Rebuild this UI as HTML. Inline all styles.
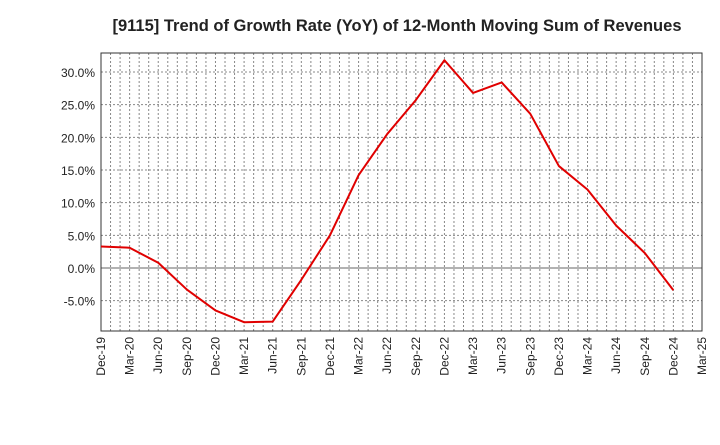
<!DOCTYPE html>
<html><head><meta charset="utf-8"><style>
body{margin:0;background:#fff;font-family:"Liberation Sans",sans-serif}
</style></head><body>
<svg id="c" width="720" height="440" xmlns="http://www.w3.org/2000/svg" font-family="Liberation Sans, sans-serif"></svg>
<script>
const categories=["Dec-19","Mar-20","Jun-20","Sep-20","Dec-20","Mar-21","Jun-21","Sep-21","Dec-21","Mar-22","Jun-22","Sep-22","Dec-22","Mar-23","Jun-23","Sep-23","Dec-23","Mar-24","Jun-24","Sep-24","Dec-24","Mar-25"];
const values=[3.3,3.1,0.8,-3.3,-6.5,-8.3,-8.2,-1.8,5.0,14.2,20.5,25.7,31.8,26.8,28.4,23.6,15.6,12.0,6.5,2.3,-3.4];
const yTicks=[-5,0,5,10,15,20,25,30];
const yLabels=["-5.0%","0.0%","5.0%","10.0%","15.0%","20.0%","25.0%","30.0%"];
const svg=document.getElementById('c');const NS="http://www.w3.org/2000/svg";
const L=101,R=702,T=53,B=331;
const x=i=>L+(R-L)*i/(categories.length-1);
const y=v=>268-v*(268-72)/30;
function el(t,a,p){const e=document.createElementNS(NS,t);for(const k in a)e.setAttribute(k,a[k]);(p||svg).appendChild(e);return e;}
const title=el('text',{x:397,y:31,'text-anchor':'middle','font-size':16.5,'font-weight':'bold',fill:'#222'});title.textContent="[9115]  Trend of Growth Rate (YoY) of 12-Month Moving Sum of Revenues";

const n=(categories.length-1)*3;
for(let m=1;m<n;m++){const xx=L+(R-L)*m/n;const g=el('line',{x1:xx,x2:xx,y1:T,y2:B,stroke:'#888','stroke-width':1,'stroke-dasharray':'2,2'});
}
yTicks.forEach((v,i)=>{const g=el('line',{x1:L,x2:R,y1:y(v),y2:y(v),stroke:v===0?'#666':'#888','stroke-width':1,'stroke-dasharray':v===0?'':'2,2'});

const t=el('text',{x:L-6,y:y(v)+5,'text-anchor':'end','font-size':12,fill:'#222'});t.textContent=yLabels[i];
});
const f=el('rect',{x:L,y:T,width:R-L,height:B-T,fill:'none',stroke:'#333','stroke-width':1});

categories.forEach((c,i)=>{const t=el('text',{transform:`translate(${x(i)+4},${B+6}) rotate(-90)`,'text-anchor':'end','font-size':12,fill:'#222'});t.textContent=c;
});
const pl=el('polyline',{points:values.map((v,i)=>x(i)+','+y(v)).join(' '),fill:'none',stroke:'#e00000','stroke-width':2,'stroke-linejoin':'round'});

</script>
</body></html>
